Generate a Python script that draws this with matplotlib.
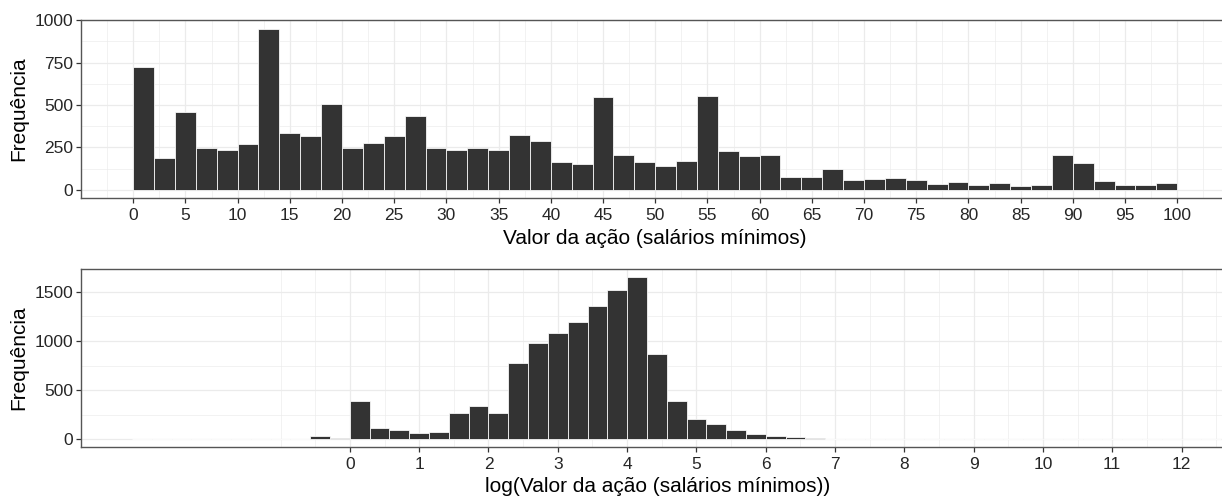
import numpy as np
import matplotlib
matplotlib.use('Agg')
import matplotlib.pyplot as plt

plt.rcParams['font.family'] = ['Liberation Sans', 'DejaVu Sans']

# %% dados
# histograma do valor da acao, classes de 2 salarios minimos de 0 a 100
valor_binwidth = 2
valor_counts = [722, 190, 456, 249, 233, 270, 949, 335, 317, 507,
                247, 278, 317, 438, 247, 233, 245, 235, 323, 288,
                166, 153, 548, 207, 166, 143, 168, 552, 227, 198,
                205, 78, 74, 121, 61, 65, 70, 59, 37, 47,
                31, 39, 25, 31, 205, 159, 55, 31, 31, 39]
valor_ticks = list(range(0, 101, 5))

# histograma do log, classes de largura 2/7, comecando em k = -11
log_binwidth = 2 / 7
log_first_bin = -11
log_counts = [0, 0, 0, 0, 0, 0, 0, 0, 0,
              30, 15, 392, 110, 92, 62, 75, 263, 342, 267,
              773, 975, 1080, 1188, 1352, 1520, 1650, 868, 385, 202,
              150, 92, 55, 37, 20, 8,
              0, 0, 0, 0, 0, 0, 0, 0, 0, 0, 0, 0, 0, 0, 0, 0, 0, 0,
              1, 1]
log_ticks = list(range(0, 13))

W, H = 1222, 498
fig = plt.figure(figsize=(W / 100, H / 100), dpi=100)

border = '#555555'
grid = '#ebebeb'


def estilo(ax, xmaj, xmin_, ymaj, ymin_):
    ax.set_facecolor('white')
    ax.set_axisbelow(True)
    for x in xmin_:
        ax.axvline(x, color=grid, lw=0.45, zorder=0)
    for y in ymin_:
        ax.axhline(y, color=grid, lw=0.45, zorder=0)
    for x in xmaj:
        ax.axvline(x, color=grid, lw=0.9, zorder=0)
    for y in ymaj:
        ax.axhline(y, color=grid, lw=0.9, zorder=0)
    for s in ax.spines.values():
        s.set_color(border)
        s.set_linewidth(1.0)
    ax.spines['right'].set_visible(False)  # fica fora da figura no original
    ax.set_xticks(xmaj)
    ax.set_yticks(ymaj)
    ax.tick_params(axis='both', length=3.5, width=0.9, color='#333333',
                   labelsize=12.5, labelcolor='#262626', pad=2)
    ax.tick_params(axis='x', pad=3.5)


# %% painel de cima
ax1 = fig.add_axes([81 / W, 1 - 198 / H, 1148.4 / W, 178 / H])
left = np.arange(len(valor_counts)) * valor_binwidth
ax1.bar(left, valor_counts, width=valor_binwidth, align='edge',
        color='#333333', edgecolor='white', linewidth=0.55, zorder=2)
estilo(ax1, valor_ticks, np.arange(-5, 106, 2.5), [0, 250, 500, 750, 1000],
       [125, 375, 625, 875])
ax1.set_xlim(-5, 105)
ax1.set_ylim(-47.5, 1000.5)
ax1.set_ylabel('Frequência', fontsize=15)
ax1.yaxis.set_label_coords((28 - 81) / 1148.4, 0.5)
ax1.set_xlabel('Valor da ação (salários mínimos)', fontsize=15, labelpad=4.6)

# %% painel de baixo
ax2 = fig.add_axes([81 / W, 1 - 447.3 / H, 1152.5 / W, 178.3 / H])
left2 = (np.arange(len(log_counts)) + log_first_bin) * log_binwidth
ax2.bar(left2, log_counts, width=log_binwidth, align='edge',
        color='#333333', edgecolor='white', linewidth=0.55, zorder=2)
estilo(ax2, log_ticks, np.arange(-1, 13, 0.5), [0, 500, 1000, 1500],
       [250, 750, 1250])
ax2.set_xlim(-3.88, 12.75)
ax2.set_ylim(-82.5, 1732.5)
ax2.set_ylabel('Frequência', fontsize=15)
ax2.yaxis.set_label_coords((28 - 81) / 1152.5, 0.5)
ax2.set_xlabel('log(Valor da ação (salários mínimos))', fontsize=15,
               labelpad=3.5)

fig.savefig('out.png', dpi=100)
